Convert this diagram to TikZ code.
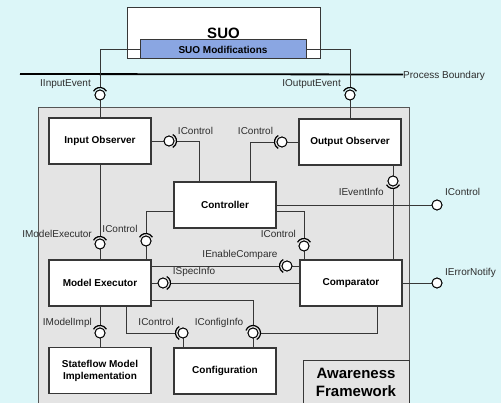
\documentclass[tikz,border=0pt]{standalone}
\usepackage{fontspec}
\setmainfont{Liberation Sans}
\usetikzlibrary{calc}
\definecolor{bgcyan}{RGB}{220,246,248}
\definecolor{fwgray}{RGB}{228,228,228}
\definecolor{modblue}{RGB}{138,166,226}
\definecolor{edge}{RGB}{55,55,55}
\definecolor{lbltext}{RGB}{45,45,45}

% socket half-ring around a lollipop: node, start angle, end angle
\newcommand\sockarc[3]{\draw[sock] ([shift={(#2:7.5)}]#1.center) arc[start angle=#2, end angle=#3, radius=7.5];}

\begin{document}
\begin{tikzpicture}[x=1pt,y=1pt,
  comp/.style={draw=edge, line width=1.1pt, fill=white, minimum width=102pt,
    minimum height=46pt, inner sep=0pt, align=center,
    font=\bfseries\fontsize{10}{12}\selectfont},
  lol/.style={circle, draw=black, line width=0.9pt, fill=white,
    minimum size=10pt, inner sep=0pt},
  wire/.style={draw=edge, line width=0.9pt},
  sock/.style={draw=black, line width=1.2pt},
  lbl/.style={font=\fontsize{10}{12}\selectfont, text=lbltext, inner sep=0pt,
    text height=7.2pt, text depth=0pt}
]
\useasboundingbox (0,0) rectangle (501,-403);
\clip (0,0) rectangle (501,-403);
\fill[bgcyan] (0,0) rectangle (501,-403);

% system under observation
\node[draw=edge, line width=1pt, fill=white, minimum width=193pt, minimum height=51pt,
  inner sep=0pt, font=\bfseries\fontsize{15}{18}\selectfont, text height=11pt, text depth=0pt]
  (suo) at (223.5,-33.5) {SUO};
\node[draw=edge, line width=1pt, fill=modblue, minimum width=166pt, minimum height=19pt,
  inner sep=0pt, font=\bfseries\fontsize{10}{12}\selectfont] (mod) at (223,-49.5) {SUO Modifications};

% process boundary
\coordinate (pbL) at (20,-74);
\node[lbl, anchor=west] (pb) at (403,-74.5) {Process Boundary};
\draw[line width=1.8pt, black] (pbL) -- (pb.west);

% awareness framework container
\draw[draw=edge!85, line width=1pt, fill=fwgray] (38,-108) rectangle (409,-410);
\draw[draw=edge, line width=1pt] (303,-361) rectangle (409,-410);
\node[align=center, inner sep=0pt, font=\bfseries\fontsize{15}{18}\selectfont]
  (awtxt) at (356,-382) {Awareness\\Framework};

% components
\node[comp] (io)   at (100,-141)   {Input Observer};
\node[comp] (oo)   at (350,-142)   {Output Observer};
\node[comp] (ctrl) at (225,-205)   {Controller};
\node[comp] (me)   at (100,-283)   {Model Executor};
\node[comp] (cmp)  at (351,-283)   {Comparator};
\node[comp] (sf)   at (100,-370.5) {Stateflow Model\\Implementation};
\node[comp] (cfg)  at (225,-371)   {Configuration};

% provided interfaces (lollipops)
\node[lol] (iin)  at (100,-95)  {};
\node[lol] (iout) at (350,-95)  {};
\node[lol] (c1)   at (169,-141) {};
\node[lol] (c2)   at (282,-142) {};
\node[lol] (c3)   at (393,-181) {};
\node[lol] (c4)   at (437,-205) {};
\node[lol] (c5)   at (304,-246) {};
\node[lol] (c6)   at (146,-241) {};
\node[lol] (c7)   at (100,-244) {};
\node[lol] (c8)   at (287,-266) {};
\node[lol] (c9)   at (163,-283) {};
\node[lol] (c10)  at (253,-333) {};
\node[lol] (c11)  at (100,-333) {};
\node[lol] (c12)  at (183,-333) {};
\node[lol] (c13)  at (437,-283) {};

% attachment points of the sockets
\coordinate (iin-s)  at ([yshift=7.5pt]iin.center);
\coordinate (iout-s) at ([yshift=7.5pt]iout.center);
\coordinate (c1-s)   at ([xshift=7.5pt]c1.center);
\coordinate (c2-s)   at ([xshift=-7.5pt]c2.center);
\coordinate (c3-s)   at ([yshift=-7.5pt]c3.center);
\coordinate (c5-s)   at ([yshift=7.5pt]c5.center);
\coordinate (c6-s)   at ([yshift=7.5pt]c6.center);
\coordinate (c7-s)   at ([yshift=7.5pt]c7.center);
\coordinate (c8-s)   at ([xshift=-7.5pt]c8.center);
\coordinate (c9-s)   at ([xshift=7.5pt]c9.center);
\coordinate (c10-s)  at ([yshift=7.5pt]c10.center);
\coordinate (c10-r)  at ([xshift=7.5pt]c10.center);
\coordinate (c11-s)  at ([yshift=7.5pt]c11.center);
\coordinate (c12-s)  at ([xshift=-7.5pt]c12.center);

% connectors
\draw[wire] (mod.west) -| (iin-s);
\draw[wire] (mod.east) -| (iout-s);
\draw[wire] (iin.south) -- (io.north);
\draw[wire] (iout.south) -- (oo.north);
\draw[wire] (io.east) -- (c1.west);
\draw[wire] (c1-s) -| ([xshift=-26pt]ctrl.north);
\draw[wire] (oo.west) -- (c2.east);
\draw[wire] (c2-s) -| ([xshift=25pt]ctrl.north);
\draw[wire] ([xshift=43pt]oo.south) -- (c3.north);
\draw[wire] (c3-s) -- ([xshift=42pt]cmp.north);
\draw[wire] (ctrl.east) -- (c4.west);
\draw[wire] ([yshift=-6pt]ctrl.east) -| (c5-s);
\draw[wire] (c5.south) -- (c5.south |- cmp.north);
\draw[wire] ([yshift=-6pt]ctrl.west) -| (c6-s);
\draw[wire] (c6.south) -- (c6.south |- me.north);
\draw[wire] (io.south) -- (c7-s);
\draw[wire] (c7.south) -- (me.north);
\draw[wire] ([yshift=17pt]me.east) -- (c8-s);
\draw[wire] (c8.east) -- (c8.east -| cmp.west);
\draw[wire] (me.east) -- (c9.west);
\draw[wire] (c9-s) -- (cmp.west);
\draw[wire] ([yshift=-17pt]me.east) -| (c10-s);
\draw[wire] ([xshift=26pt]cmp.south) |- (c10-r);
\draw[wire] (c10.south) -- (c10.south |- cfg.north);
\draw[wire] (me.south) -- (c11-s);
\draw[wire] (c11.south) -- (sf.north);
\draw[wire] ([xshift=26pt]me.south) |- (c12-s);
\draw[wire] (c12.south) -- (c12.south |- cfg.north);
\draw[wire] (cmp.east) -- (c13.west);

% redraw lollipop heads above the wires
\foreach \n in {iin,iout,c1,c2,c3,c4,c5,c6,c7,c8,c9,c10,c11,c12,c13}
  {\draw[black, line width=0.9pt, fill=white] (\n.center) circle[radius=5];}

% required interfaces (sockets)
\sockarc{iin}{150}{30}
\sockarc{iout}{150}{30}
\sockarc{c1}{60}{-60}
\sockarc{c2}{120}{240}
\sockarc{c3}{210}{330}
\sockarc{c5}{150}{30}
\sockarc{c6}{150}{30}
\sockarc{c7}{150}{30}
\sockarc{c8}{120}{240}
\sockarc{c9}{60}{-60}
\sockarc{c10}{160}{-60}
\sockarc{c11}{150}{30}
\sockarc{c12}{120}{240}

% interface names
\node[lbl, anchor=east] (l-iin)  at (91,-83)    {IInputEvent};
\node[lbl, anchor=east] (l-iout) at (341,-83)   {IOutputEvent};
\node[lbl]              (l-c1)   at (195.5,-131) {IControl};
\node[lbl]              (l-c2)   at (255.5,-131) {IControl};
\node[lbl, anchor=east] (l-c3)   at (384,-192)  {IEventInfo};
\node[lbl, anchor=west] (l-c4)   at (445,-192)  {IControl};
\node[lbl, anchor=east] (l-c5)   at (296,-234)  {IControl};
\node[lbl]              (l-c6)   at (120,-229)  {IControl};
\node[lbl, anchor=east] (l-c7)   at (92,-234)   {IModelExecutor};
\node[lbl]              (l-c8)   at (240,-254)  {IEnableCompare};
\node[lbl]              (l-c9)   at (194,-271)  {ISpecInfo};
\node[lbl]              (l-c10)  at (219,-322)  {IConfigInfo};
\node[lbl, anchor=east] (l-c11)  at (92,-322)   {IModelImpl};
\node[lbl]              (l-c12)  at (156,-322)  {IControl};
\node[lbl, anchor=west] (l-c13)  at (445,-272)  {IErrorNotify};
\end{tikzpicture}
\end{document}
